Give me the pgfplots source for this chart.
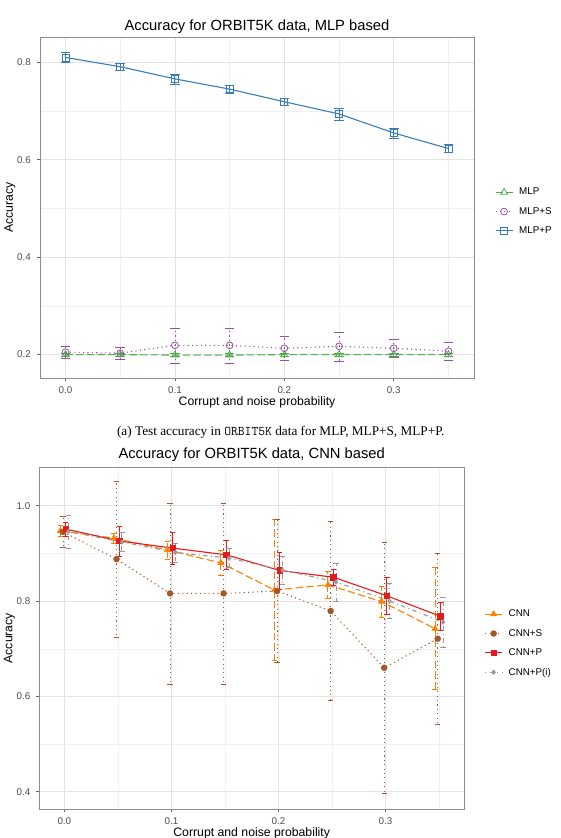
\documentclass[border=0pt]{standalone}
\usepackage{fontspec}
\setmainfont{Liberation Serif}
\setsansfont{Liberation Sans}
\usepackage{pgfplots}
\usepackage{pgfplotstable}
\pgfplotsset{compat=1.18}
\definecolor{cred}{HTML}{E41A1C}
\definecolor{cblue}{HTML}{377EB8}
\definecolor{cgreen}{HTML}{4DAF4A}
\definecolor{cpurple}{HTML}{984EA3}
\definecolor{corange}{HTML}{FF7F00}
\definecolor{cbrown}{HTML}{A65628}
\definecolor{cgrey}{HTML}{999999}
\definecolor{gridc}{HTML}{E3E3E3}
\definecolor{gridm}{HTML}{F0F0F0}
\definecolor{framec}{HTML}{8C8C8C}
\definecolor{tickc}{HTML}{666666}
\definecolor{ticktext}{HTML}{4D4D4D}

% ---------------- data ----------------
\pgfplotstableread{
x y e
0.00 0.200 0.003
0.05 0.200 0.003
0.10 0.199 0.003
0.15 0.199 0.003
0.20 0.200 0.003
0.25 0.200 0.003
0.30 0.200 0.003
0.35 0.200 0.003
}\mlp
\pgfplotstableread{
x y e
0.00 0.205 0.013
0.05 0.203 0.013
0.10 0.219 0.036
0.15 0.219 0.036
0.20 0.213 0.024
0.25 0.217 0.030
0.30 0.213 0.019
0.35 0.207 0.018
}\mlps
\pgfplotstableread{
x y e
0.00 0.810 0.010
0.05 0.791 0.007
0.10 0.766 0.010
0.15 0.745 0.009
0.20 0.719 0.008
0.25 0.694 0.012
0.30 0.655 0.010
0.35 0.623 0.008
}\mlpp
\pgfplotstableread{
x y e
-0.00375 0.947 0.012
0.04625 0.932 0.010
0.09625 0.907 0.019
0.14625 0.880 0.026
0.19625 0.823 0.148
0.24625 0.834 0.029
0.29625 0.799 0.033
0.34625 0.742 0.128
}\cnn
\pgfplotstableread{
x y e
-0.00125 0.945 0.032
0.04875 0.888 0.163
0.09875 0.816 0.190
0.14875 0.816 0.190
0.19875 0.821 0.150
0.24875 0.779 0.188
0.29875 0.660 0.263
0.34875 0.721 0.180
}\cnns
\pgfplotstableread{
x y e
0.00125 0.951 0.015
0.05125 0.926 0.031
0.10125 0.911 0.033
0.15125 0.897 0.030
0.20125 0.864 0.039
0.25125 0.850 0.016
0.30125 0.811 0.039
0.35125 0.768 0.030
}\cnnp
\pgfplotstableread{
x y e
0.00375 0.946 0.035
0.05375 0.924 0.020
0.10375 0.902 0.020
0.15375 0.890 0.020
0.20375 0.865 0.030
0.25375 0.840 0.040
0.30375 0.800 0.037
0.35375 0.756 0.053
}\cnnpi

\pgfplotsset{
  gg/.style={
    scale only axis,
    axis line style={draw=framec, line width=0.9pt},
    tick pos=left,
    tick align=outside,
    major tick length=3.1bp,
    minor tick length=0pt,
    every tick/.style={draw=tickc, line width=0.6pt},
    grid=both,
    major grid style={draw=gridc, line width=0.6pt},
    minor grid style={draw=gridm, line width=0.35pt},
    xtick={0,0.1,0.2,0.3}, xticklabels={0.0,0.1,0.2,0.3},
    minor xtick={0.05,0.15,0.25,0.35},
    xmin=-0.0233, xmax=0.3733,
    ticklabel style={font=\sffamily\fontsize{9.85}{11}\selectfont, text=ticktext},
    xticklabel style={yshift=-2bp},
    yticklabel style={xshift=-2.5bp},
    xlabel={Corrupt and noise probability},
    ylabel={Accuracy},
    every axis x label/.style={at={(axis description cs:0.5,0)}, yshift=-24bp, anchor=center, font=\sffamily\fontsize{12.3}{14}\selectfont},
    every axis y label/.style={at={(axis description cs:0,0.5)}, xshift=-30bp, rotate=90, anchor=center, font=\sffamily\fontsize{12.3}{14}\selectfont},
    every axis title/.style={at={(axis description cs:0.5,1)}, anchor=center, font=\sffamily\fontsize{14.8}{17}\selectfont},
    legend style={anchor=west, draw=none, fill=none, inner sep=0pt,
      font=\sffamily\fontsize{9.85}{11}\selectfont, row sep=7pt},
    legend cell align=left,
  },
  ser/.style={line width=1.1pt, mark options={solid, line width=0.8pt},
    error bars/y dir=both, error bars/y explicit, error bars/error mark=-},
}

\begin{document}
\begin{tikzpicture}
\useasboundingbox (0,0) rectangle (561bp,838bp);

\begin{axis}[gg, at={(40bp,460bp)}, anchor=south west, width=434bp, height=341bp,
  ymin=0.152, ymax=0.852,
  ytick={0.2,0.4,0.6,0.8}, yticklabels={0.2,0.4,0.6,0.8}, minor ytick={0.3,0.5,0.7},
  title={Accuracy for ORBIT5K data, MLP based},
  title style={yshift=10bp},
  legend style={at={(1.048,0.488)}}]
\addplot[ser, color=cgreen, dash pattern=on 7.5pt off 3.2pt, mark=triangle, mark size=4pt,
  error bars/error bar style={line width=0.8pt, solid}, error bars/error mark options={solid, rotate=90, mark size=4.8pt}]
  table[x=x, y=y, y error=e] {\mlp};
\addlegendentry{\hspace{4bp}MLP}
\addplot[ser, color=cpurple, dash pattern=on 1.1pt off 3.3pt, mark=o, mark size=3.4pt,
  error bars/error bar style={line width=0.8pt, dash pattern=on 1.1pt off 3.3pt}, error bars/error mark options={rotate=90, mark size=4.8pt}]
  table[x=x, y=y, y error=e] {\mlps};
\addlegendentry{\hspace{4bp}MLP+S}
\addplot[ser, color=cblue, solid, mark=square, mark size=3.5pt,
  error bars/error bar style={line width=1pt, solid}, error bars/error mark options={solid, rotate=90, mark size=4.8pt}]
  table[x=x, y=y, y error=e] {\mlpp};
\addlegendentry{\hspace{4bp}MLP+P}
\end{axis}

\node[font=\fontsize{13.3}{15}\selectfont] at (280.8bp,406bp)
  {(a) Test accuracy in \texttt{ORBIT5K} data for MLP, MLP+S, MLP+P.};

\begin{axis}[gg, at={(39.4bp,29bp)}, anchor=south west, width=424.6bp, height=341.7bp,
  ymin=0.3637, ymax=1.0806,
  ytick={0.4,0.6,0.8,1.0}, yticklabels={0.4,0.6,0.8,1.0}, minor ytick={0.5,0.7,0.9},
  title={Accuracy for ORBIT5K data, CNN based},
  title style={yshift=12.5bp},
  legend style={at={(1.048,0.485)}}]
\addplot[ser, color=corange, dash pattern=on 7.5pt off 3.2pt, mark=triangle*, mark size=3.3pt,
  error bars/error bar style={line width=1pt, dash pattern=on 7.5pt off 3.2pt}, error bars/error mark options={solid, rotate=90, mark size=2.7pt}]
  table[x=x, y=y, y error=e] {\cnn};
\addlegendentry{\hspace{4bp}CNN}
\addplot[ser, color=cbrown, dash pattern=on 1.1pt off 3.3pt, mark=*, mark size=2.8pt,
  error bars/error bar style={line width=0.9pt, dash pattern=on 1.1pt off 3.3pt}, error bars/error mark options={rotate=90, mark size=2.7pt}]
  table[x=x, y=y, y error=e] {\cnns};
\addlegendentry{\hspace{4bp}CNN+S}
\addplot[ser, color=cred, solid, mark=square*, mark size=2.7pt,
  error bars/error bar style={line width=1pt, solid}, error bars/error mark options={solid, rotate=90, mark size=2.7pt}]
  table[x=x, y=y, y error=e] {\cnnp};
\addlegendentry{\hspace{4bp}CNN+P}
\addplot[ser, color=cgrey, dash pattern=on 1.1pt off 3.3pt on 4.4pt off 3.3pt, mark=diamond*, mark size=2.2pt,
  error bars/error bar style={line width=0.9pt, dash pattern=on 1.1pt off 3.3pt on 4.4pt off 3.3pt}, error bars/error mark options={rotate=90, mark size=2.7pt}]
  table[x=x, y=y, y error=e] {\cnnpi};
\addlegendentry{\hspace{4bp}CNN+P(i)}
\end{axis}
\end{tikzpicture}
\end{document}
